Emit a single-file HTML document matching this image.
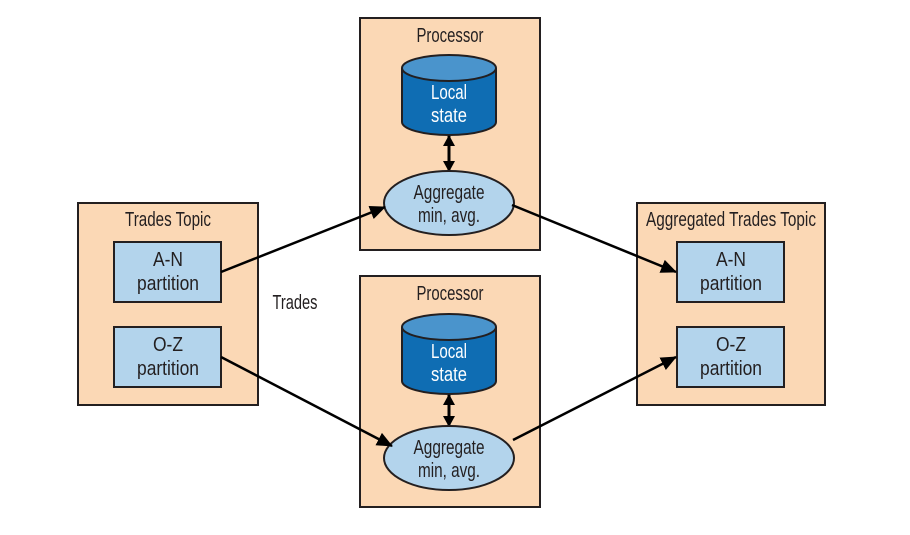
<!DOCTYPE html>
<html><head><style>
html,body{margin:0;padding:0;background:#fff;width:910px;height:535px;overflow:hidden}
text{font-family:"Liberation Sans",sans-serif;fill:#231f20}
</style></head><body>
<svg width="910" height="535" viewBox="0 0 910 535" xmlns="http://www.w3.org/2000/svg">
<defs>
<marker id="a2" markerWidth="16" markerHeight="14" refX="15" refY="7" orient="auto-start-reverse" markerUnits="userSpaceOnUse" viewBox="0 0 16 14">
<path d="M0,0 L16,7 L0,14 z" fill="#000"/></marker>
<marker id="a3" markerWidth="11" markerHeight="12" refX="10" refY="6" orient="auto-start-reverse" markerUnits="userSpaceOnUse" viewBox="0 0 11 12">
<path d="M0,0 L11,6 L0,12 z" fill="#000"/></marker>
</defs>
<g fill="#fbd8b5" stroke="#231f20" stroke-width="2">
<rect x="78" y="203" width="180" height="202"/>
<rect x="360" y="18" width="180" height="232"/>
<rect x="360" y="276" width="180" height="231"/>
<rect x="637" y="203" width="188" height="202"/>
</g>
<g fill="#b3d4ec" stroke="#231f20" stroke-width="2">
<rect x="114" y="242" width="107" height="60"/>
<rect x="114" y="327" width="107" height="60"/>
<rect x="677" y="242" width="107" height="60"/>
<rect x="677" y="327" width="107" height="60"/>
</g>
<g font-size="20" text-anchor="middle">
<text x="168" y="226" textLength="86" lengthAdjust="spacingAndGlyphs">Trades Topic</text>
<text x="168" y="266" textLength="30" lengthAdjust="spacingAndGlyphs">A-N</text><text x="168" y="290" textLength="62" lengthAdjust="spacingAndGlyphs">partition</text>
<text x="168" y="351" textLength="30" lengthAdjust="spacingAndGlyphs">O-Z</text><text x="168" y="375" textLength="62" lengthAdjust="spacingAndGlyphs">partition</text>
<text x="731" y="226" textLength="170" lengthAdjust="spacingAndGlyphs">Aggregated Trades Topic</text>
<text x="731" y="266" textLength="30" lengthAdjust="spacingAndGlyphs">A-N</text><text x="731" y="290" textLength="62" lengthAdjust="spacingAndGlyphs">partition</text>
<text x="731" y="351" textLength="30" lengthAdjust="spacingAndGlyphs">O-Z</text><text x="731" y="375" textLength="62" lengthAdjust="spacingAndGlyphs">partition</text>
<text x="450" y="42" textLength="67" lengthAdjust="spacingAndGlyphs">Processor</text>
<text x="450" y="300" textLength="67" lengthAdjust="spacingAndGlyphs">Processor</text>
<text x="295" y="309" textLength="45" lengthAdjust="spacingAndGlyphs">Trades</text>
</g>
<g stroke="#231f20" stroke-width="2">
<path d="M402,68 L402,122 A47,13 0 0 0 496,122 L496,68" fill="#0f6db3"/>
<ellipse cx="449" cy="68" rx="47" ry="13" fill="#4a94cc"/>
<path d="M402,327 L402,381 A47,13 0 0 0 496,381 L496,327" fill="#0f6db3"/>
<ellipse cx="449" cy="327" rx="47" ry="13" fill="#4a94cc"/>
</g>
<g font-size="20" text-anchor="middle">
<text x="449" y="99" style="fill:#fff" textLength="36" lengthAdjust="spacingAndGlyphs">Local</text><text x="449" y="122" style="fill:#fff" textLength="36" lengthAdjust="spacingAndGlyphs">state</text>
<text x="449" y="358" style="fill:#fff" textLength="36" lengthAdjust="spacingAndGlyphs">Local</text><text x="449" y="381" style="fill:#fff" textLength="36" lengthAdjust="spacingAndGlyphs">state</text>
</g>
<g stroke="#000" stroke-width="3">
<line x1="449" y1="136" x2="449" y2="171" marker-start="url(#a3)" marker-end="url(#a3)"/>
<line x1="449" y1="395" x2="449" y2="426" marker-start="url(#a3)" marker-end="url(#a3)"/>
</g>
<g fill="#b3d4ec" stroke="#231f20" stroke-width="2">
<ellipse cx="449" cy="203" rx="65" ry="32"/>
<ellipse cx="449" cy="458" rx="65" ry="32"/>
</g>
<g font-size="20" text-anchor="middle">
<text x="449" y="199" textLength="71" lengthAdjust="spacingAndGlyphs">Aggregate</text><text x="449" y="222" textLength="62" lengthAdjust="spacingAndGlyphs">min, avg.</text>
<text x="449" y="454" textLength="71" lengthAdjust="spacingAndGlyphs">Aggregate</text><text x="449" y="477" textLength="62" lengthAdjust="spacingAndGlyphs">min, avg.</text>
</g>
<g stroke="#000" stroke-width="2.5" fill="none">
<line x1="221" y1="272" x2="385" y2="207" marker-end="url(#a2)"/>
<line x1="221" y1="357" x2="392" y2="446" marker-end="url(#a2)"/>
<line x1="512" y1="205" x2="676" y2="272" marker-end="url(#a2)"/>
<line x1="513" y1="440" x2="676" y2="357" marker-end="url(#a2)"/>
</g>
</svg>
</body></html>
